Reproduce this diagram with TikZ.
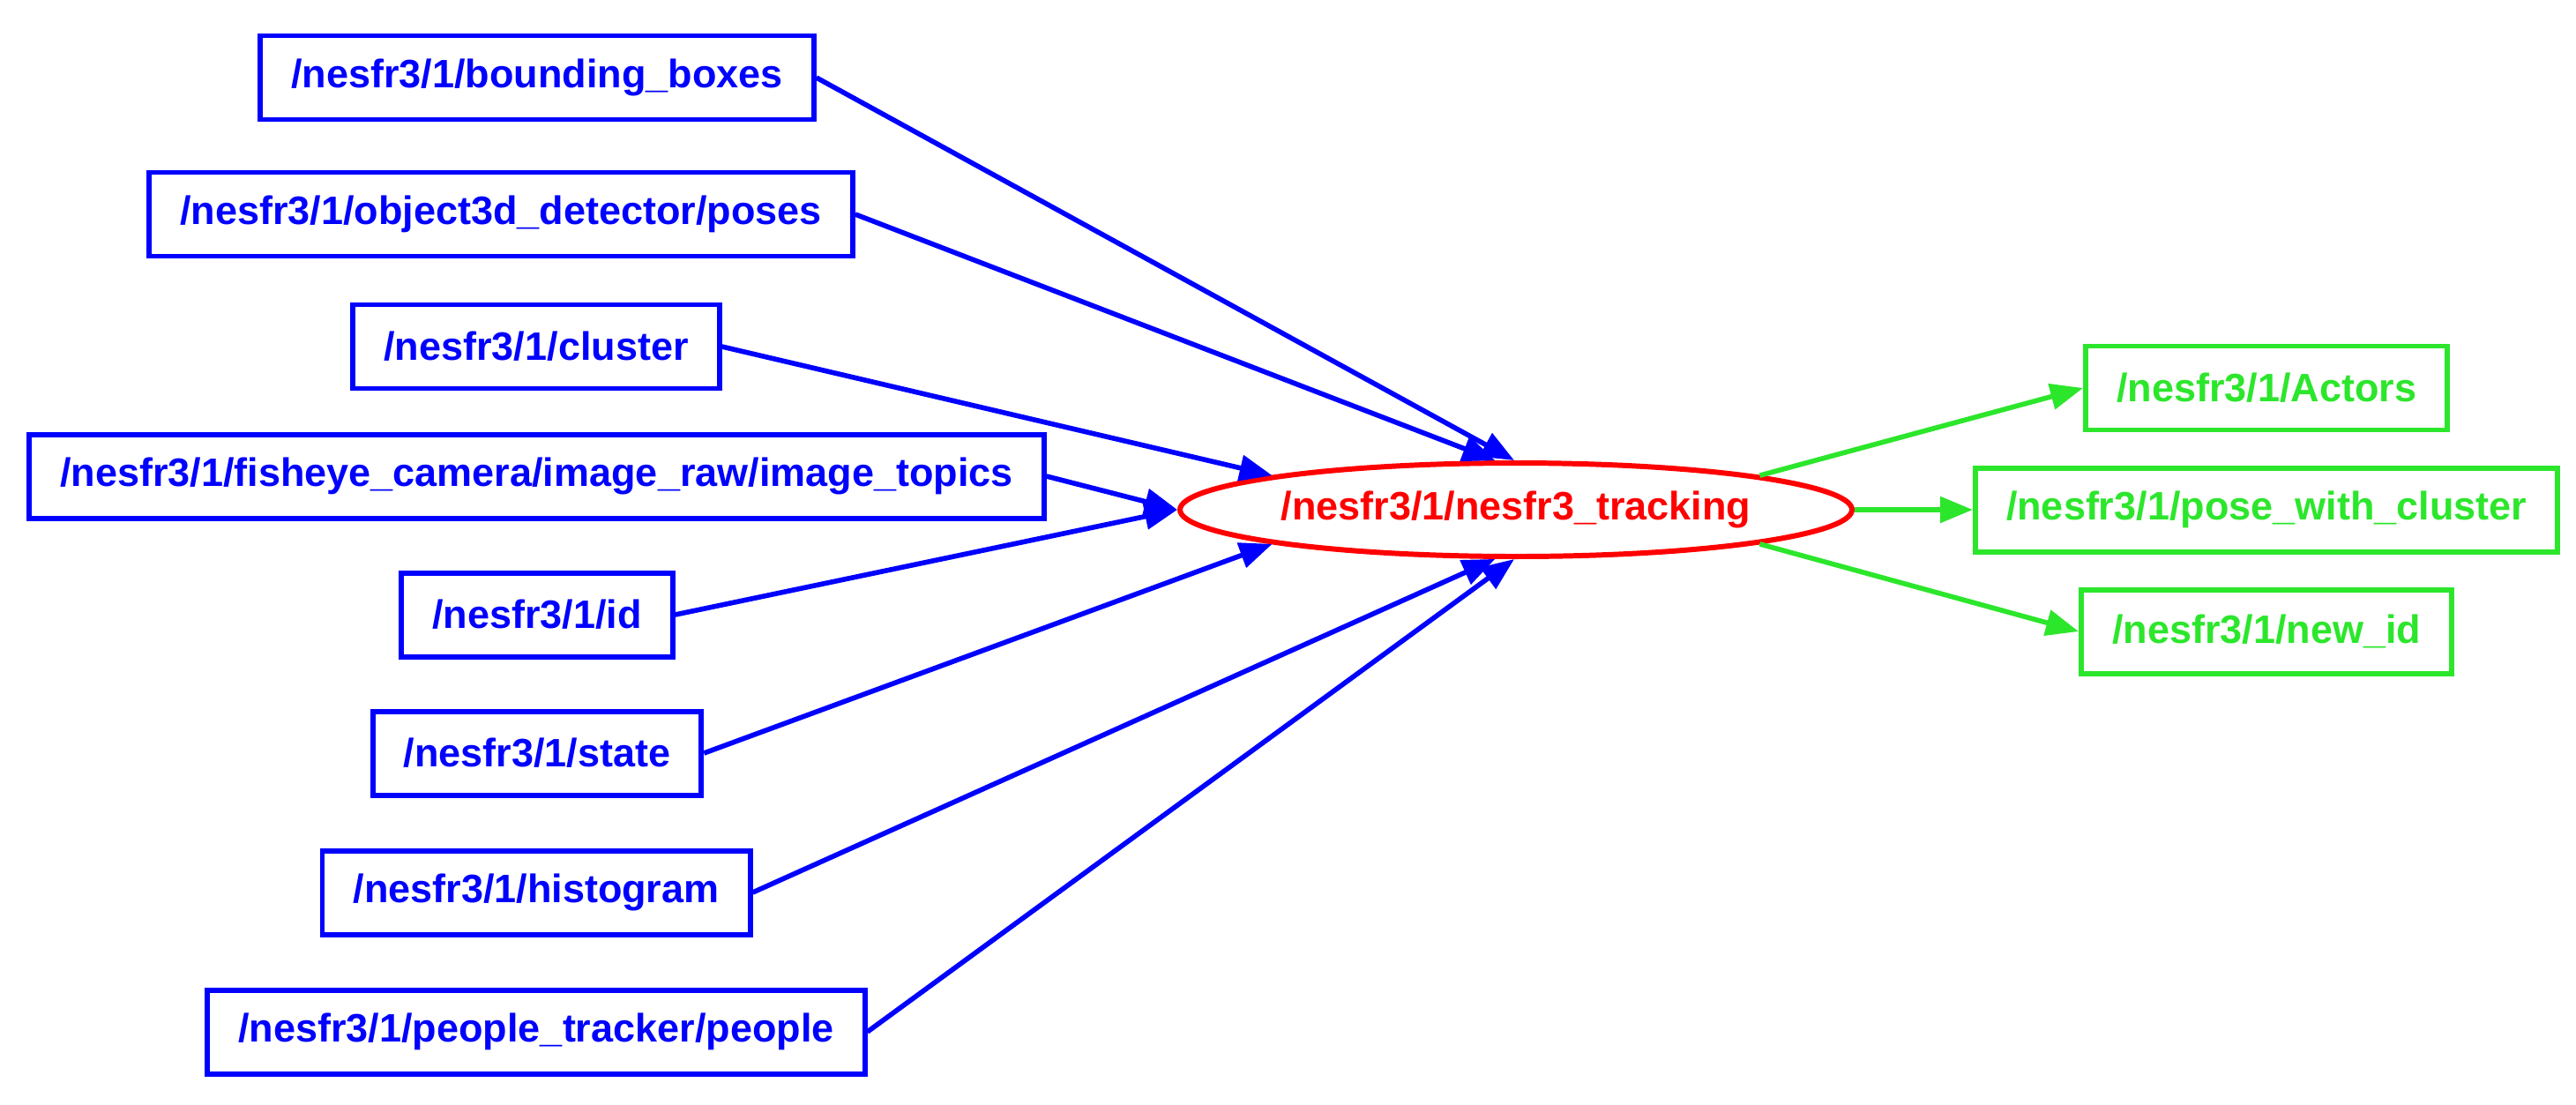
\documentclass[tikz,border=0pt]{standalone}
\usepackage{fontspec}
\setmainfont{Liberation Sans}
\usepackage{xcolor}
\usepackage{tikz}
\usetikzlibrary{arrows.meta,shapes.geometric}
\definecolor{topicblue}{HTML}{0000FF}
\definecolor{nodered}{HTML}{FF0000}
\definecolor{topicgreen}{HTML}{2CE62C}

\begin{document}
\begin{tikzpicture}[
  topicbox/.style={
    rectangle, draw, line width=1.7pt,
    minimum height=9.5mm, inner xsep=3.5mm, inner ysep=0pt,
    font=\fontsize{12.8}{15}\selectfont\bfseries,
  },
  inbox/.style={topicbox, draw=topicblue, text=topicblue},
  outbox/.style={topicbox, draw=topicgreen, text=topicgreen},
  nodeoval/.style={
    ellipse, draw=nodered, text=nodered, line width=1.7pt,
    minimum width=76.2mm, minimum height=10.6mm, inner sep=0pt,
    font=\fontsize{12.8}{15}\selectfont\bfseries,
  },
  inedge/.style={-{Triangle[length=3.7mm, width=2.9mm]}, line width=1.6pt, topicblue},
  outedge/.style={-{Triangle[length=3.7mm, width=2.9mm]}, line width=1.6pt, topicgreen},
]
\useasboundingbox (0,0) rectangle (29.21,-12.52);

% Subscribed topics
\node[inbox] (bbox) at (6.09, -0.88) {/nesfr3/1/bounding\_boxes};
\node[inbox] (poses) at (5.68, -2.43) {/nesfr3/1/object3d\_detector/poses};
\node[inbox] (cluster) at (6.08, -3.93) {/nesfr3/1/cluster};
\node[inbox] (fisheye) at (6.085, -5.40) {/nesfr3/1/fisheye\_camera/image\_raw/image\_topics};
\node[inbox] (id) at (6.09, -6.97) {/nesfr3/1/id};
\node[inbox] (state) at (6.09, -8.54) {/nesfr3/1/state};
\node[inbox] (hist) at (6.08, -10.12) {/nesfr3/1/histogram};
\node[inbox] (people) at (6.08, -11.70) {/nesfr3/1/people\_tracker/people};

% Tracking node
\node[nodeoval] (track) at (17.19, -5.78) {/nesfr3/1/nesfr3\_tracking};

% Published topics
\node[outbox] (actors) at (25.70, -4.40) {/nesfr3/1/Actors};
\node[outbox] (posecl) at (25.70, -5.78) {/nesfr3/1/pose\_with\_cluster};
\node[outbox] (newid) at (25.70, -7.16) {/nesfr3/1/new\_id};

% Inputs
\draw[inedge] (bbox.east) -- (track.92);
\draw[inedge] (poses.east) -- (track.113);
\draw[inedge] (cluster.east) -- (track.172);
\draw[inedge] (fisheye.east) -- (track.180);
\draw[inedge] (id.east) -- (track.180);
\draw[inedge] (state.east) -- (track.188);
\draw[inedge] (hist.east) -- (track.247);
\draw[inedge] (people.east) -- (track.268);

% Outputs
\draw[outedge] (track.8) -- (actors.west);
\draw[outedge] (track.east) -- (posecl.west);
\draw[outedge] (track.352) -- (newid.west);

\end{tikzpicture}
\end{document}
